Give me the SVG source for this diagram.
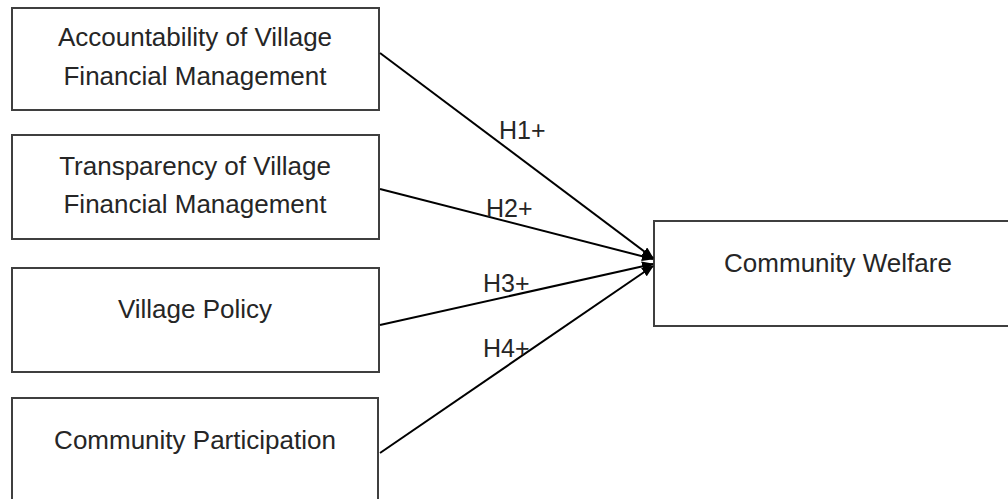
<svg xmlns="http://www.w3.org/2000/svg" width="1008" height="499" viewBox="0 0 1008 499">
<style>
.box{fill:#fff;stroke:#3f3f3f;stroke-width:2}
.t{font-family:"Liberation Sans",Arial,sans-serif;font-size:26px;fill:#262626;text-anchor:middle}
.lbl{font-family:"Liberation Sans",Arial,sans-serif;font-size:25px;fill:#262626}
.c{stroke:#000;stroke-width:2;fill:none;marker-end:url(#ah)}
</style>
<defs>
<marker id="ah" markerWidth="12" markerHeight="10" refX="11" refY="5" orient="auto" markerUnits="userSpaceOnUse">
<path d="M0,0 L12,5 L0,10 Z" fill="#000"/>
</marker>
</defs>
<rect width="1008" height="499" fill="#fff"/>
<g id="n1"><rect class="box" x="12" y="8" width="367" height="102"/><text class="t" x="195" y="46">Accountability of Village</text><text class="t" x="195" y="85">Financial Management</text></g>
<g id="n2"><rect class="box" x="12" y="135" width="367" height="104"/><text class="t" x="195" y="175">Transparency of Village</text><text class="t" x="195" y="213">Financial Management</text></g>
<g id="n3"><rect class="box" x="12" y="268" width="367" height="104"/><text class="t" x="195" y="318">Village Policy</text></g>
<g id="n4"><rect class="box" x="12" y="398" width="366" height="120"/><text class="t" x="195" y="449">Community Participation</text></g>
<g id="n5"><rect class="box" x="654" y="221" width="380" height="105"/><text class="t" x="838" y="272">Community Welfare</text></g>
<g id="connectors">
<line class="c" x1="380" y1="53" x2="653" y2="258"/>
<line class="c" x1="380" y1="189" x2="653" y2="259"/>
<line class="c" x1="380" y1="325" x2="653" y2="264"/>
<line class="c" x1="380" y1="453" x2="653" y2="266"/>
<text class="lbl" x="499" y="139">H1+</text>
<text class="lbl" x="486" y="217">H2+</text>
<text class="lbl" x="483" y="292">H3+</text>
<text class="lbl" x="483" y="357">H4+</text>
</g>
</svg>
